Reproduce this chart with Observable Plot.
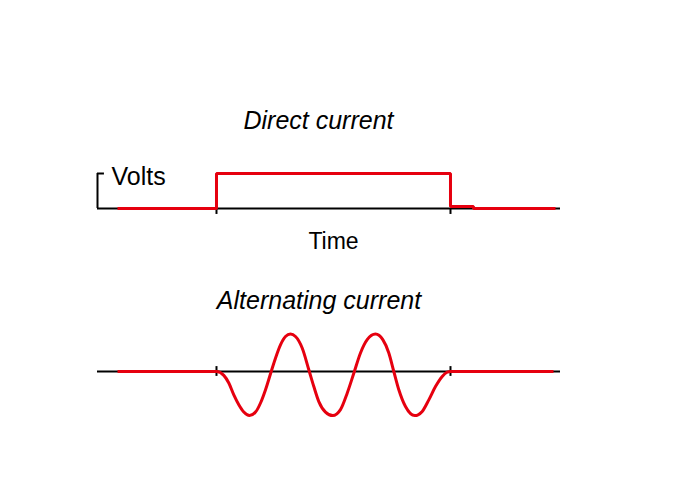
<!DOCTYPE html>
<html><head><meta charset="utf-8">
<script src="https://cdn.jsdelivr.net/npm/d3@7"></script>
<script src="https://cdn.jsdelivr.net/npm/@observablehq/plot@0.6"></script>
<style>
html,body{margin:0;padding:0;background:#fff;}
#chart{width:680px;height:479px;overflow:hidden;background:#fff;}
#chart svg{display:block;}
</style></head><body><div id="chart"></div>
<script>
// ---- data (time in arbitrary units 0–100, voltage in arbitrary units) ----
const titles = ["Direct current", "Alternating current"];
const axisLabels = ["Time", "Volts"];
const timeExtent = [0, 100];
const tickTimes = [25.70, 76.24];
const voltsTick = [1];

const dcTime  = [4.32, 25.70, 25.70, 76.24, 76.24, 81.21, 81.21, 98.92];
const dcVolts = [0,    0,     1,     1,     0.06,  0.06,  0,     0];

const acTime  = [4.32, 25.70, 27.28, 28.36, 29.44, 30.52, 31.60, 32.83, 34.13, 35.21, 36.29,
                 37.52, 38.44, 39.52, 40.60, 41.68, 42.76, 44.21, 45.64, 46.72, 47.80,
                 49.24, 50.82, 52.48, 53.93, 55.36, 56.80, 58.25, 60.04, 61.62, 62.92,
                 64.00, 65.08, 66.52, 68.53, 70.13, 71.56, 73.00, 74.45, 75.53, 76.24, 98.49];
const acVolts = [0,    0,     -0.11, -0.33, -0.67, -0.95, -1.16, -1.26, -1.16, -0.90, -0.52,
                 0,    0.38,  0.76,  1.00,  1.07,  1.00,  0.67,  0.05,  -0.43, -0.86,
                 -1.16, -1.26, -1.09, -0.62, -0.05, 0.53, 0.91,  1.07,  0.91,  0.53,
                 0,    -0.52, -1.00, -1.26, -1.14, -0.81, -0.43, -0.14, -0.02, 0,    0];

const RED = "#e6000f";
const FONT = "'Liberation Sans', Arial, Helvetica, sans-serif";
const dc = dcTime.map((t, i) => ({time: t, volts: dcVolts[i]}));
const ac = acTime.map((t, i) => ({time: t, volts: acVolts[i]}));

const dcPlot = Plot.plot({
  width: 680, height: 260,
  marginLeft: 97, marginRight: 120, marginTop: 173, marginBottom: 52,
  x: {domain: timeExtent, axis: null},
  y: {domain: [0, 1], axis: null},
  style: {fontFamily: FONT, background: "white", color: "black"},
  marks: [
    Plot.ruleY([0], {stroke: "black", strokeWidth: 2}),
    Plot.ruleX(tickTimes, {y1: 0, y2: -0.17, stroke: "black", strokeWidth: 2}),
    Plot.ruleX([timeExtent[0]], {y1: 0, y2: voltsTick[0], stroke: "black", strokeWidth: 2}),
    Plot.ruleY(voltsTick, {x1: timeExtent[0], x2: 1.5, stroke: "black", strokeWidth: 2}),
    Plot.line(dc, {x: "time", y: "volts", stroke: RED, strokeWidth: 3, curve: "linear",
                   strokeLinejoin: "miter", strokeLinecap: "butt"}),
    Plot.text([axisLabels[1]], {x: timeExtent[0], y: voltsTick[0], text: d => d, textAnchor: "start",
                                lineAnchor: "middle", dx: 14, dy: 3, fontSize: 25, fill: "black"}),
    Plot.text([axisLabels[0]], {frameAnchor: "bottom", lineAnchor: "middle", text: d => d,
                                dx: 4.5, dy: 33, fontSize: 23, fill: "black"}),
    Plot.text([titles[0]], {frameAnchor: "top", lineAnchor: "middle", text: d => d, dx: -10.5, dy: -53,
                            fontSize: 25, fontStyle: "italic", fill: "black"})
  ]
});

const acPlot = Plot.plot({
  width: 680, height: 219,
  marginLeft: 97, marginRight: 120, marginTop: 58.5, marginBottom: 55.5,
  x: {domain: timeExtent, axis: null},
  y: {domain: [-1.5, 1.5], axis: null},
  style: {fontFamily: FONT, background: "white", color: "black"},
  marks: [
    Plot.ruleY([0], {stroke: "black", strokeWidth: 2}),
    Plot.ruleX(tickTimes, {y1: -0.14, y2: 0.14, stroke: "black", strokeWidth: 2}),
    Plot.line(ac, {x: "time", y: "volts", stroke: RED, strokeWidth: 3, curve: "monotone-x",
                   strokeLinejoin: "round", strokeLinecap: "butt"}),
    Plot.text([titles[1]], {frameAnchor: "top", lineAnchor: "middle", text: d => d, dx: -10, dy: -18.2,
                            fontSize: 25, fontStyle: "italic", fill: "black"})
  ]
});

const root = document.getElementById("chart");
root.appendChild(dcPlot);
root.appendChild(acPlot);
</script>
</body></html>
